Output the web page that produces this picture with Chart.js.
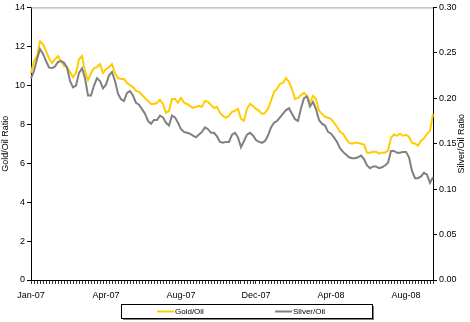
<!DOCTYPE html>
<html>
<head>
<meta charset="utf-8">
<script src="https://cdn.jsdelivr.net/npm/chart.js@4"></script>
<style>
    html, body { margin: 0; padding: 0; background: #fff; }
    #wrap { position: relative; width: 470px; height: 322px; }
</style>
</head>
<body>
<div id="wrap"><canvas id="chart"></canvas></div>
<script>
// axis labels, one every 25 points
const tickLabels = ['Jan-07', 'Apr-07', 'Aug-07', 'Dec-07', 'Apr-08', 'Aug-08'];
const labelEvery = 25;

// gold / oil ratio (left axis)
const goldOil = [
    10.63, 11.24, 11.50, 12.26, 12.11, 11.75, 11.39, 11.14, 11.34, 11.50,
    11.24, 10.99, 10.93, 10.68, 10.42, 10.63, 11.34, 11.50, 10.73, 10.27,
    10.63, 10.88, 10.93, 11.09, 10.63, 10.83, 10.93, 11.09, 10.63, 10.37,
    10.32, 10.32, 10.12, 10.01, 9.91, 9.71, 9.66, 9.50, 9.35, 9.20,
    9.04, 9.04, 9.10, 9.25, 9.04, 8.58, 8.69, 9.30, 9.30, 9.10,
    9.35, 9.10, 9.04, 8.94, 8.84, 8.89, 8.94, 8.89, 9.20, 9.15,
    8.99, 8.84, 8.89, 8.58, 8.43, 8.33, 8.43, 8.64, 8.69, 8.79,
    8.28, 8.18, 8.79, 9.04, 8.94, 8.79, 8.69, 8.53, 8.58, 8.79,
    9.20, 9.66, 9.81, 10.07, 10.12, 10.37, 10.17, 9.81, 9.30, 9.35,
    9.50, 9.61, 9.45, 9.10, 9.45, 9.30, 8.69, 8.53, 8.38, 8.33,
    8.28, 8.07, 7.87, 7.61, 7.51, 7.26, 7.05, 7.00, 7.05, 7.05,
    7.00, 6.95, 6.54, 6.54, 6.59, 6.59, 6.49, 6.54, 6.54, 6.64,
    7.31, 7.46, 7.41, 7.51, 7.41, 7.46, 7.36, 7.05, 7.00, 6.90,
    7.15, 7.26, 7.51, 7.66, 8.53
];

// silver / oil ratio (right axis)
const silverOil = [
    0.222, 0.230, 0.243, 0.254, 0.249, 0.241, 0.234, 0.233, 0.235, 0.240,
    0.241, 0.239, 0.234, 0.219, 0.212, 0.214, 0.228, 0.233, 0.222, 0.203,
    0.203, 0.214, 0.222, 0.219, 0.211, 0.215, 0.225, 0.229, 0.219, 0.205,
    0.199, 0.197, 0.206, 0.208, 0.203, 0.195, 0.193, 0.188, 0.183, 0.175,
    0.172, 0.176, 0.176, 0.181, 0.179, 0.173, 0.170, 0.181, 0.179, 0.173,
    0.166, 0.163, 0.162, 0.161, 0.159, 0.157, 0.160, 0.163, 0.168, 0.166,
    0.162, 0.162, 0.158, 0.152, 0.151, 0.152, 0.152, 0.160, 0.162, 0.157,
    0.146, 0.153, 0.160, 0.162, 0.159, 0.154, 0.152, 0.151, 0.153, 0.159,
    0.168, 0.173, 0.175, 0.179, 0.183, 0.187, 0.189, 0.183, 0.177, 0.175,
    0.189, 0.200, 0.202, 0.191, 0.196, 0.188, 0.176, 0.172, 0.170, 0.163,
    0.161, 0.157, 0.152, 0.145, 0.141, 0.138, 0.135, 0.134, 0.134, 0.135,
    0.137, 0.133, 0.126, 0.123, 0.125, 0.125, 0.123, 0.124, 0.126, 0.129,
    0.142, 0.142, 0.140, 0.140, 0.141, 0.141, 0.135, 0.120, 0.112, 0.112,
    0.114, 0.118, 0.116, 0.107, 0.113
];

const categories = goldOil.map((v, i) =>
    i % labelEvery === 0 && tickLabels[i / labelEvery] ? tickLabels[i / labelEvery] : '');

const FONT = 'Liberation Sans, Arial, sans-serif';

// top border, right axis title (bottom-to-top) and the boxed legend
const extras = {
    id: 'extras',
    afterDraw(chart) {
        const c = chart.ctx;
        const a = chart.chartArea;
        c.save();

        c.strokeStyle = '#a0a0a0';
        c.lineWidth = 1;
        c.beginPath();
        c.moveTo(a.left, a.top + 0.5);
        c.lineTo(a.right, a.top + 0.5);
        c.stroke();

        c.fillStyle = '#000';
        c.font = '9px ' + FONT;
        c.textAlign = 'center';
        c.textBaseline = 'middle';
        c.translate(chart.width - 8, (a.top + a.bottom) / 2);
        c.rotate(-Math.PI / 2);
        c.fillText('Silver/Oil Ratio', 0, 0);
        c.setTransform(1, 0, 0, 1, 0, 0);

        // legend
        const bx = 121, by = 304, bw = 251, bh = 14;
        c.fillStyle = '#808080';
        c.fillRect(bx + 2, by + bh, bw, 2);
        c.fillRect(bx + bw, by + 2, 2, bh);
        c.fillStyle = '#fff';
        c.fillRect(bx, by, bw, bh);
        c.strokeStyle = '#000';
        c.strokeRect(bx + 0.5, by + 0.5, bw, bh);

        const items = [[36, 54], [154, 172]];
        chart.data.datasets.forEach((ds, k) => {
            const [x0, tx] = items[k];
            const y = by + bh / 2 + 0.5;
            c.strokeStyle = ds.borderColor;
            c.lineWidth = 2;
            c.beginPath();
            c.moveTo(bx + x0, y);
            c.lineTo(bx + x0 + 17, y);
            c.stroke();
            c.fillStyle = '#000';
            c.font = '8px ' + FONT;
            c.textAlign = 'left';
            c.fillText(ds.label, bx + tx, y);
        });
        c.restore();
    }
};

new Chart(document.getElementById('chart'), {
    type: 'line',
    data: {
        labels: categories,
        datasets: [
            {
                label: 'Gold/Oil',
                data: goldOil,
                borderColor: '#FFCC00',
                borderWidth: 2,
                pointRadius: 0,
                yAxisID: 'y',
                order: 1,
            },
            {
                label: 'Silver/Oil',
                data: silverOil,
                borderColor: '#808080',
                borderWidth: 2,
                pointRadius: 0,
                yAxisID: 'y1',
                order: 0,
            },
        ],
    },
    options: {
        responsive: true,
        maintainAspectRatio: false,
        animation: false,
        layout: { padding: { top: 6, left: 0, right: 0, bottom: 0 } },
        plugins: {
            legend: { display: false },
            tooltip: { enabled: false },
        },
        scales: {
            x: {
                offset: false,
                grid: { drawOnChartArea: false, tickLength: 4, color: '#333' },
                border: { color: '#000' },
                ticks: { autoSkip: false, maxRotation: 0, padding: 6, color: '#000', font: { family: FONT, size: 9 } },
                afterFit: (s) => { s.height = 42; },
            },
            y: {
                position: 'left',
                min: 0,
                max: 14,
                ticks: { stepSize: 2, padding: 2, color: '#000', font: { family: FONT, size: 9 } },
                grid: { drawOnChartArea: false, tickLength: 4, color: '#000' },
                border: { color: '#000' },
                title: { display: true, text: 'Gold/Oil Ratio', padding: 0, color: '#000', font: { family: FONT, size: 9 } },
                afterFit: (s) => { s.width = 31; },
            },
            y1: {
                position: 'right',
                min: 0,
                max: 0.3,
                ticks: {
                    stepSize: 0.05,
                    padding: 2,
                    color: '#000',
                    font: { family: FONT, size: 9 },
                    callback: (v) => v.toFixed(2),
                },
                grid: { drawOnChartArea: false, tickLength: 4, color: '#000' },
                border: { color: '#000' },
                afterFit: (s) => { s.width = 37; },
            },
        },
    },
    plugins: [extras],
});
</script>
</body>
</html>
